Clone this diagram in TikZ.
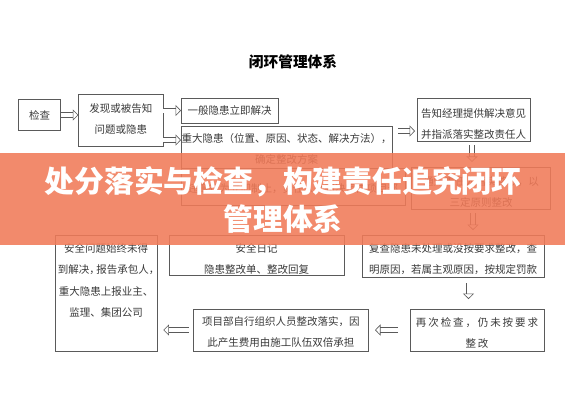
\documentclass[tikz,border=0pt]{standalone}
\usepackage{fontspec}
\setmainfont{Liberation Serif}
\newfontfamily\cjk{Noto Sans CJK SC}
\usetikzlibrary{arrows.meta,calc}
\definecolor{linec}{HTML}{5A5A5A}
\definecolor{txtc}{HTML}{3A3A3A}
\definecolor{bannerc}{RGB}{241,122,88}
\begin{document}
\begin{tikzpicture}[x=1pt,y=-1pt,
  box/.style 2 args={draw=linec, line width=0.6pt, minimum width=#1, minimum height=#2, inner sep=0pt, outer sep=0pt},
  txt/.style={font=\cjk\fontsize{10.5}{21}\selectfont, text=txtc, align=center, inner sep=0pt},
  harrow/.style={draw=linec, line width=0.55pt, double=white, double distance=4pt,
    -{Triangle[open, length=5.5pt, width=11pt, line width=0.55pt]}}
]
\fill[white] (0,0) rectangle (565,400);
\useasboundingbox (0,0) rectangle (565,400);

% title
\node[font=\cjk\bfseries\fontsize{14.7}{18}\selectfont, text=black, inner sep=0pt] (title) at (293,61.5) {闭环管理体系};

% boxes
\node[box={42.4pt}{31.4pt}] (jc) at (39.5,115) {};
\node[txt] (jct) at (39.5,115) {检查};

\node[box={85pt}{52.4pt}] (fx) at (120.8,120.5) {};
\node[txt] (fxt) at (120.8,118.8) {发现或被告知\\问题或隐患};

\node[box={97pt}{25pt}] (yb) at (229.5,110.5) {};
\node[txt] (ybt) at (229.5,110) {一般隐患立即解决};

\node[box={211pt}{42pt}] (zd) at (286.5,147) {};
\node[txt] (zdt) at (286.5,149) {重大隐患（位置、原因、状态、解决方法），\\确定整改方案};

\node[box={224pt}{37pt}] (bb) at (293,186.5) {};
\node[txt] (bbt) at (293,189) {违章行为立即制止，责任人处罚决定由项目部};

\node[box={113pt}{43pt}] (gz) at (473.5,119.5) {};
\node[txt] (gzt) at (473.5,124) {告知经理提供解决意见\\并指派落实整改责任人};

\node[box={138.5pt}{42.5pt}] (yi) at (481,188.2) {};
\node[txt] (yit) at (481,192) {通知责任人落实整改，以\\三定原则整改};

\node[box={182pt}{42pt}] (fc) at (453,256) {};
\node[txt] (fct) at (453,259) {复查隐患未处理或没按要求整改，查\\明原因，若属主观原因，按规定罚款};

\node[box={134pt}{42pt}] (zc) at (477,330) {};
\node[txt] (zct) at (477,332.5) {\addfontfeature{LetterSpace=18}再次检查，仍未按要求\\\addfontfeature{LetterSpace=18}整改};

\node[box={174.5pt}{42pt}] (xm) at (280.75,330) {};
\node[txt] (xmt) at (280.75,332.5) {项目部自行组织人员整改落实，因\\此产生费用由施工队伍双倍承担};

\node[box={102.3pt}{116pt}] (aq) at (106.2,293) {};
\node[txt, font=\cjk\fontsize{10.5}{21.5}\selectfont] (aqt) at (106.2,280.5) {安全问题始终未得\\到解决，\kern-3.5pt报告承包人，\kern-5pt\\重大隐患上报业主、\\监理、集团公司};

\node[box={175pt}{40pt}] (rj) at (256.5,255) {};
\node[txt] (rjt) at (256.5,259) {安全日记\\隐患整改单、整改回复};

% arrows
\draw[harrow] (jc.east) -- (fx.west |- jc.east);
\draw[harrow] (fx.east |- yb.west) -- (yb.west);
\draw[harrow] (fx.east |- 0,140) -- (zd.west |- 0,140);
\draw[harrow, shorten <=6pt, shorten >=2pt] (zd.east |- 0,131) -- (gz.west |- 0,131);
\draw[harrow, shorten <=4pt, shorten >=5pt] ([xshift=-1.5pt]gz.south) -- ([xshift=-1.5pt]gz.south |- yi.north);
\draw[harrow, shorten <=4pt, shorten >=5pt] ([xshift=-0.5pt]gz.south |- yi.south) -- ([xshift=-0.5pt]gz.south |- fc.north);
\draw[harrow, shorten <=6pt, shorten >=10pt] ([xshift=15.5pt]fc.south) -- ([xshift=15.5pt]fc.south |- zc.north);
\draw[harrow, shorten <=12pt, shorten >=7pt] (zc.west) -- (xm.east);
\draw[harrow, shorten <=5pt, shorten >=6pt] (xm.west) -- (xm.west -| aq.east);

% banner
\fill[bannerc, fill opacity=0.88] (0,152.5) rectangle (565,245);
\node[font=\cjk\bfseries\fontsize{29.8}{38}\selectfont, text=white, align=center, inner sep=0pt] (bt) at (283,200) {处分落实与检查，构建责任追究闭环\\管理体系};
\end{tikzpicture}
\end{document}
